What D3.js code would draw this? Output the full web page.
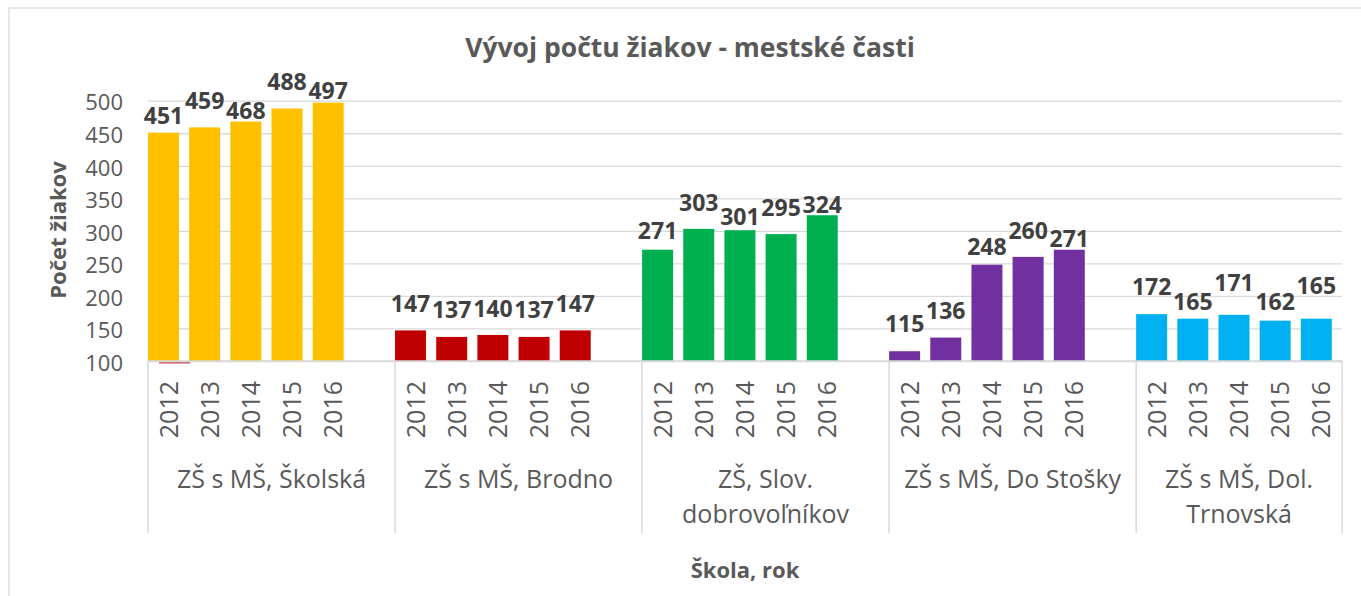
<!DOCTYPE html>
<html lang="sk">
<head>
<meta charset="utf-8">
<title>Vývoj počtu žiakov - mestské časti</title>
<script src="https://cdn.jsdelivr.net/npm/d3@7"></script>
<style>
body { margin: 0; background: #fff; }
text { font-family: "Open Sans", sans-serif; }
.grid line { stroke: #d9d9d9; stroke-width: 1.3; }
.grid path { display: none; }
.yaxis path { display: none; }
.yaxis text { font-size: 22px; fill: #595959; }
.frame { fill: none; stroke: #d9d9d9; stroke-width: 1.3; }
.sep { stroke: #d9d9d9; stroke-width: 1.5; }
.year { font-size: 25px; fill: #595959; }
.school { font-size: 25px; fill: #595959; }
.val { font-size: 23px; font-weight: bold; fill: #404040; }
.title { font-size: 26.5px; font-weight: bold; fill: #595959; }
.atitle { font-size: 22px; font-weight: bold; fill: #595959; }
</style>
</head>
<body>
<div id="chart"></div>
<script>
// schools (two-line names wrap like in the original)
var schools = [
  ["ZŠ s MŠ, Školská"],
  ["ZŠ s MŠ, Brodno"],
  ["ZŠ, Slov.", "dobrovoľníkov"],
  ["ZŠ s MŠ, Do Stošky"],
  ["ZŠ s MŠ, Dol.", "Trnovská"]
];
var years = ["2012", "2013", "2014", "2015", "2016"];
var colors = ["#ffc000", "#c00000", "#00b050", "#7030a0", "#00b0f0"];

// pocet ziakov per school, 2012..2016
var skolska  = [451, 459, 468, 488, 497];
var brodno   = [147, 137, 140, 137, 147];
var slov     = [271, 303, 301, 295, 324];
var stosky   = [115, 136, 248, 260, 271];
var trnovska = [172, 165, 171, 162, 165];
var counts = [skolska, brodno, slov, stosky, trnovska];

// where Excel put each data label (baseline, in count units)
var labelSkolska  = [464, 488, 472, 517, 502];
var labelBrodno   = [175, 166, 168, 166, 175];
var labelSlov     = [287, 331, 309, 323, 328];
var labelStosky   = [144, 164, 263, 287, 275];
var labelTrnovska = [201, 178, 208, 178, 203];
var labelAt = [labelSkolska, labelBrodno, labelSlov, labelStosky, labelTrnovska];

var yTicks = [100, 150, 200, 250, 300, 350, 400, 450, 500];

var W = 1361, H = 596;
var margin = {top: 100.7, left: 148, right: 19, bottom: 235};
var width = W - margin.left - margin.right;
var height = H - margin.top - margin.bottom;

// one slot per school/year, plus an empty slot between schools
var slots = [];
var data = [];
schools.forEach(function(s, i) {
  years.forEach(function(yr, j) {
    slots.push(i + "|" + yr);
    data.push({school: i, year: yr, value: counts[i][j], label: labelAt[i][j], key: i + "|" + yr});
  });
  if (i < schools.length - 1) slots.push("gap" + i);
});

var x = d3.scaleBand().domain(slots).range([0, width]).padding(0);
var y = d3.scaleLinear().domain([100, 500]).range([height, 0]);
var barW = x.step() * 0.753;

var svg = d3.select("#chart").append("svg")
  .attr("width", W)
  .attr("height", H);

svg.append("rect")
  .attr("class", "frame")
  .attr("x", 9).attr("y", 8)
  .attr("width", W + 20).attr("height", H + 20);

svg.append("text")
  .attr("class", "title")
  .attr("x", 690).attr("y", 57)
  .attr("text-anchor", "middle")
  .text("Vývoj počtu žiakov - mestské časti");

var g = svg.append("g")
  .attr("transform", "translate(" + margin.left + "," + margin.top + ")");

// gridlines
g.append("g")
  .attr("class", "grid")
  .call(d3.axisLeft(y).tickValues(yTicks).tickSize(-width).tickFormat(""));

// y tick labels
g.append("g")
  .attr("class", "yaxis")
  .call(d3.axisLeft(y).tickValues(yTicks).tickSize(0).tickPadding(25))
  .selectAll("text").attr("dy", "0.42em");

// y axis title
g.append("text")
  .attr("class", "atitle")
  .attr("transform", "translate(" + (66 - margin.left) + "," + (230 - margin.top) + ") rotate(-90)")
  .attr("text-anchor", "middle")
  .text("Počet žiakov");

// bars
g.selectAll(".bar")
  .data(data).enter()
  .append("rect")
  .attr("class", "bar")
  .attr("x", function(d) { return x(d.key); })
  .attr("width", barW)
  .attr("y", function(d) { return y(d.value); })
  .attr("height", function(d) { return height - y(d.value); })
  .style("fill", function(d) { return colors[d.school]; });

// small red stub under the first bar (it is there in the original)
g.append("rect")
  .attr("x", x("0|2012") + x.step() * 0.27)
  .attr("y", height + 1)
  .attr("width", barW)
  .attr("height", 1.6)
  .style("fill", "#c0504d")
  .style("opacity", 0.8);

// data labels
g.selectAll(".val")
  .data(data).enter()
  .append("text")
  .attr("class", "val")
  .attr("x", function(d) { return x(d.key) + barW / 2; })
  .attr("y", function(d) { return y(d.label); })
  .attr("text-anchor", "middle")
  .text(function(d) { return d.value; });

// category axis line
g.append("line")
  .attr("class", "sep")
  .attr("x1", 0).attr("x2", width)
  .attr("y1", height).attr("y2", height);

// separators between schools
var edges = schools.map(function(s, i) { return x(i + "|" + years[0]); });
edges.push(width);
g.selectAll(".edge")
  .data(edges).enter()
  .append("line")
  .attr("class", "sep")
  .attr("x1", function(d) { return d; }).attr("x2", function(d) { return d; })
  .attr("y1", height).attr("y2", height + 172);

// year labels, rotated
g.selectAll(".year")
  .data(data).enter()
  .append("text")
  .attr("class", "year")
  .attr("text-anchor", "end")
  .attr("dy", "0.36em")
  .attr("transform", function(d) {
    return "translate(" + (x(d.key) + x.step() / 2) + "," + (height + 20) + ") rotate(-90)";
  })
  .text(function(d) { return d.year; });

// school names
var names = g.selectAll(".school")
  .data(schools).enter()
  .append("text")
  .attr("class", "school")
  .attr("text-anchor", "middle")
  .attr("x", function(d, i) { return (edges[i] + edges[i + 1] - (i < schools.length - 1 ? x.step() : 0)) / 2 + (i < schools.length - 1 ? x.step() / 2 : 0); })
  .attr("y", height + 127);
names.selectAll("tspan")
  .data(function(d) { return d; }).enter()
  .append("tspan")
  .attr("x", function() { return d3.select(this.parentNode).attr("x"); })
  .attr("dy", function(d, k) { return k === 0 ? 0 : 35.5; })
  .text(function(d) { return d; });

// x axis title
g.append("text")
  .attr("class", "atitle")
  .attr("x", width / 2)
  .attr("y", 578 - margin.top)
  .attr("text-anchor", "middle")
  .text("Škola, rok");
</script>
</body>
</html>
